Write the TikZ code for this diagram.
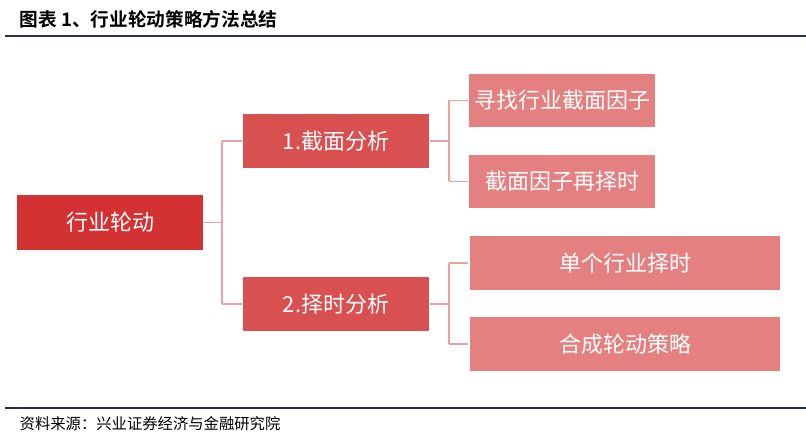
\documentclass[tikz,border=0pt]{standalone}
\usepackage{fontspec}
\newfontfamily\cjk{Noto Sans CJK SC}
\newfontfamily\cjkb{Noto Sans CJK SC Bold}
\definecolor{c1}{RGB}{211,50,50}
\definecolor{c2}{RGB}{217,80,80}
\definecolor{c3}{RGB}{228,128,128}
\definecolor{ln}{RGB}{236,160,160}
\definecolor{nav}{RGB}{45,45,85}
\begin{document}
\begin{tikzpicture}[x=0.75pt,y=-0.75pt,
 box/.style={draw=white,line width=0.8pt,text=white,font=\cjk\fontsize{16.5}{16.5}\selectfont,inner sep=0pt},
 con/.style={draw=ln,line width=1.3pt}]
\useasboundingbox (0,0) rectangle (806,441);
\fill[white] (0,0) rectangle (806,441);
\node[anchor=west,font=\cjkb\fontsize{14}{14}\selectfont] (title) at (15,19) {图表 1、行业轮动策略方法总结};
\draw[nav,line width=2pt] (5,36) -- (806,36);
\draw[nav,line width=1.5pt] (5,408) -- (806,408);
\node[anchor=west,font=\cjk\fontsize{11.5}{11.5}\selectfont] (src) at (15,424) {资料来源：兴业证券经济与金融研究院};
\node[box,fill=c1,minimum width=140pt,minimum height=42pt] (root) at (110,222.5) {行业轮动};
\node[box,fill=c2,minimum width=140pt,minimum height=42pt] (a) at (336,141) {1.截面分析};
\node[box,fill=c2,minimum width=140pt,minimum height=41pt] (b) at (336,304) {2.择时分析};
\node[box,fill=c3,minimum width=140pt,minimum height=41pt] (a1) at (562,100.5) {寻找行业截面因子};
\node[box,fill=c3,minimum width=140pt,minimum height=41pt] (a2) at (562,181.5) {截面因子再择时};
\node[box,fill=c3,minimum width=234pt,minimum height=41pt] (b1) at (625,263) {单个行业择时};
\node[box,fill=c3,minimum width=234pt,minimum height=41pt] (b2) at (625,344) {合成轮动策略};
\coordinate (j0) at (222,222.5);
\coordinate (j1) at (449,141);
\coordinate (j2) at (449,304);
\draw[con] (root.east) -- (j0) (j0 |- a.west) -- (a.west) (j0 |- b.west) -- (b.west) (j0 |- a.west) -- (j0 |- b.west);
\draw[con] (a.east) -- (j1) (j1 |- a1.west) -- (a1.west) (j1 |- a2.west) -- (a2.west) (j1 |- a1.west) -- (j1 |- a2.west);
\draw[con] (b.east) -- (j2) (j2 |- b1.west) -- (b1.west) (j2 |- b2.west) -- (b2.west) (j2 |- b1.west) -- (j2 |- b2.west);
\end{tikzpicture}
\end{document}
